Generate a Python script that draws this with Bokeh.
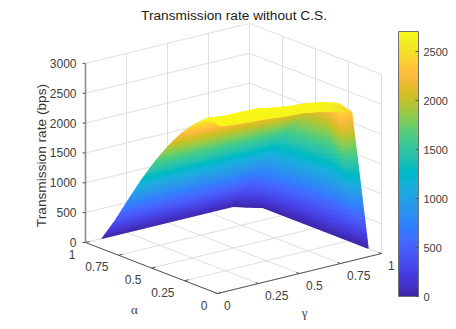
import numpy as np
from bokeh.core.properties import value
from bokeh.embed import file_html
from bokeh.models import ColorBar, ColumnDataSource, FixedTicker, LinearColorMapper
from bokeh.plotting import figure
from bokeh.resources import INLINE

ALPHA = [0.1, 0.2, 0.3, 0.4, 0.5, 0.6, 0.7, 0.8, 0.9, 1.0]
GAMMA = [0.1, 0.2, 0.3, 0.4, 0.5, 0.6, 0.7, 0.8, 0.9, 1.0]
RATE = [
    [2650, 2620, 2600, 2580, 2550, 2540, 2490, 2430, 2345, 0],
    [2700, 2660, 2660, 2650, 2600, 2560, 2540, 2490, 2410, 0],
    [2510, 2485, 2460, 2440, 2415, 2390, 2360, 2335, 2310, 0],
    [2270, 2250, 2230, 2215, 2200, 2185, 2165, 2150, 2130, 0],
    [1970, 1955, 1940, 1930, 1920, 1905, 1895, 1880, 1870, 0],
    [1625, 1620, 1610, 1605, 1600, 1590, 1585, 1580, 1575, 0],
    [1240, 1235, 1235, 1230, 1230, 1225, 1225, 1220, 1215, 0],
    [820, 820, 815, 815, 815, 810, 810, 810, 805, 0],
    [385, 385, 380, 380, 380, 375, 375, 370, 365, 0],
    [0, 0, 0, 0, 0, 0, 0, 0, 0, None],
]
# colour data of the two rim rows of the surface
RIM_COLOUR = [
    [2660, 2650, 2650, 2650, 2640, 2640, 2630, 2610, 2345, 0],
    [2700, 2695, 2695, 2690, 2685, 2680, 2670, 2660, 2600, 0],
]
FLOOR_TICKS = [0, 0.25, 0.5, 0.75, 1]
FLOOR_LABELS = ["0", "0.25", "0.5", "0.75", "1"]
Z_TICKS = [0, 500, 1000, 1500, 2000, 2500, 3000]
BAR_TICKS = [0, 500, 1000, 1500, 2000, 2500]
TITLE = "Transmission rate without C.S."
Z_LABEL = "Transmission rate (bps)"
PARULA = [
    (0.2422,0.1504,0.6603),(0.2504,0.1650,0.7076),(0.2578,0.1818,0.7511),(0.2647,0.1978,0.7952),
    (0.2706,0.2147,0.8364),(0.2751,0.2342,0.8710),(0.2783,0.2559,0.8991),(0.2803,0.2782,0.9221),
    (0.2813,0.3006,0.9414),(0.2810,0.3228,0.9579),(0.2795,0.3447,0.9717),(0.2760,0.3667,0.9829),
    (0.2699,0.3892,0.9906),(0.2602,0.4123,0.9952),(0.2440,0.4358,0.9988),(0.2206,0.4603,0.9973),
    (0.1963,0.4847,0.9892),(0.1834,0.5074,0.9798),(0.1786,0.5289,0.9682),(0.1764,0.5499,0.9520),
    (0.1687,0.5703,0.9359),(0.1540,0.5902,0.9218),(0.1460,0.6091,0.9079),(0.1380,0.6276,0.8973),
    (0.1248,0.6459,0.8883),(0.1113,0.6635,0.8763),(0.0952,0.6798,0.8598),(0.0689,0.6948,0.8394),
    (0.0297,0.7082,0.8163),(0.0036,0.7203,0.7917),(0.0067,0.7312,0.7660),(0.0433,0.7411,0.7394),
    (0.0964,0.7500,0.7120),(0.1408,0.7584,0.6842),(0.1717,0.7670,0.6554),(0.1938,0.7758,0.6251),
    (0.2161,0.7843,0.5923),(0.2470,0.7918,0.5567),(0.2906,0.7973,0.5188),(0.3406,0.8008,0.4789),
    (0.3909,0.8029,0.4354),(0.4456,0.8024,0.3909),(0.5044,0.7993,0.3480),(0.5616,0.7942,0.3045),
    (0.6174,0.7876,0.2612),(0.6720,0.7793,0.2227),(0.7242,0.7698,0.1910),(0.7738,0.7598,0.1646),
    (0.8203,0.7498,0.1535),(0.8634,0.7406,0.1596),(0.9035,0.7330,0.1774),(0.9393,0.7288,0.2100),
    (0.9728,0.7298,0.2394),(0.9956,0.7434,0.2371),(0.9970,0.7659,0.2199),(0.9952,0.7893,0.2028),
    (0.9892,0.8136,0.1885),(0.9786,0.8386,0.1766),(0.9676,0.8639,0.1643),(0.9610,0.8890,0.1537),
    (0.9597,0.9135,0.1423),(0.9628,0.9373,0.1265),(0.9691,0.9606,0.1064),(0.9769,0.9839,0.0805),
]
Z_MAX = 2708

# orthographic view of the box, in page pixels
ORIGIN = (217.0, 293.0)
ALPHA_VEC = (-132.0, -51.0)
GAMMA_VEC = (164.0, -40.0)
Z_SCALE = 0.0597


def project(a, g, z=0.0):
    x = ORIGIN[0] + np.asarray(a) * ALPHA_VEC[0] + np.asarray(g) * GAMMA_VEC[0]
    y = ORIGIN[1] + np.asarray(a) * ALPHA_VEC[1] + np.asarray(g) * GAMMA_VEC[1] - np.asarray(z) * Z_SCALE
    return x, y


rgb = np.array(PARULA)
pos = np.linspace(0, 1, len(rgb))
fine = np.linspace(0, 1, 256)
palette = ["#%02x%02x%02x" % tuple(int(round(np.interp(t, pos, rgb[:, k]) * 255)) for k in range(3)) for t in fine]
mapper = LinearColorMapper(palette=palette, low=0, high=Z_MAX)

W, H = 452, 325
p = figure(width=W, height=H, x_range=(0, W), y_range=(H, 0), output_backend="svg",
           toolbar_location=None, min_border=0, outline_line_color=None)
p.xaxis.visible = False
p.yaxis.visible = False
p.xgrid.visible = False
p.ygrid.visible = False

# walls and floor grid
GRID = "#dfdfdf"
gx, gy = [], []
for t in FLOOR_TICKS:
    for a0, g0, a1, g1 in ((t, 0, t, 1), (0, t, 1, t)):
        x, y = project([a0, a1], [g0, g1])
        gx.append(x.tolist()); gy.append(y.tolist())
    x, y = project([1, 1], [t, t], [0, Z_TICKS[-1]])
    gx.append(x.tolist()); gy.append(y.tolist())
    x, y = project([t, t], [1, 1], [0, Z_TICKS[-1]])
    gx.append(x.tolist()); gy.append(y.tolist())
for z in Z_TICKS:
    x, y = project([1, 1, 0], [0, 1, 1], [z, z, z])
    gx.append(x.tolist()); gy.append(y.tolist())
p.multi_line(gx, gy, line_color=GRID, line_width=1)

# surface, farthest cells first
A = np.array(ALPHA)
G = np.array(GAMMA)
Z = np.array([[np.nan if v is None else v for v in row] for row in RATE], dtype=float)
C = Z.copy()
C[:len(RIM_COLOUR)] = np.array(RIM_COLOUR, dtype=float)
cells = []
for i in range(len(A) - 1):
    for j in range(len(G) - 1):
        zc = Z[i:i + 2, j:j + 2]
        cc = C[i:i + 2, j:j + 2]
        missing = np.isnan(zc[1, 1])
        na = 16
        ng = 30 if j == len(G) - 2 else 2
        for ia in range(na):
            for ig in range(ng):
                ua = np.array([ia, ia + 1, ia + 1, ia]) / na
                ug = np.array([ig, ig, ig + 1, ig + 1]) / ng
                if missing:
                    # missing corner: the cell closes as a triangle
                    sc = ua + ug
                    if (sc > 1 + 1e-9).all():
                        continue
                    ua = np.where(sc > 1, ua / sc, ua)
                    ug = np.where(sc > 1, ug / sc, ug)
                    w = np.array([1 - ua - ug, ua, ug, 0 * ua])
                    zz = w[0] * zc[0, 0] + w[1] * zc[1, 0] + w[2] * zc[0, 1]
                    vv = w[0] * cc[0, 0] + w[1] * cc[1, 0] + w[2] * cc[0, 1]
                else:
                    w = np.array([(1 - ua) * (1 - ug), ua * (1 - ug), (1 - ua) * ug, ua * ug])
                    zz = w[0] * zc[0, 0] + w[1] * zc[1, 0] + w[2] * zc[0, 1] + w[3] * zc[1, 1]
                    vv = w[0] * cc[0, 0] + w[1] * cc[1, 0] + w[2] * cc[0, 1] + w[3] * cc[1, 1]
                aa = A[i] + ua * (A[i + 1] - A[i])
                gg = G[j] + ug * (G[j + 1] - G[j])
                x, y = project(aa, gg, zz)
                _, depth = project(aa.mean(), gg.mean())
                cells.append((float(depth), x.tolist(), y.tolist(), float(vv.mean())))
cells.sort(key=lambda c: c[0])
src = ColumnDataSource(dict(xs=[c[1] for c in cells], ys=[c[2] for c in cells], z=[c[3] for c in cells]))
cmap = {"field": "z", "transform": mapper}
p.patches("xs", "ys", source=src, fill_color=cmap, line_color=cmap, line_width=0.8)

# axes
AXIS = "#555555"
x, y = project([1, 0, 0], [0, 0, 1])
p.line(x.tolist(), y.tolist(), line_color=AXIS, line_width=1)
x, y = project([1, 1], [0, 0], [0, Z_TICKS[-1]])
p.line(x.tolist(), y.tolist(), line_color="#8a8a8a", line_width=1.6)

tx, ty = [], []
for t in FLOOR_TICKS:
    x0, y0 = project(t, 0)
    tx.append([float(x0), float(x0) + 4]); ty.append([float(y0), float(y0) - 1])
    x0, y0 = project(0, t)
    tx.append([float(x0), float(x0) - 3]); ty.append([float(y0), float(y0) - 1])
for z in Z_TICKS:
    x0, y0 = project(1, 0, z)
    tx.append([float(x0), float(x0) - 3]); ty.append([float(y0), float(y0)])
p.multi_line(tx, ty, line_color=AXIS, line_width=1)

FONT = value("Liberation Sans")
TXT = "#404040"
x0, y0 = project(FLOOR_TICKS, np.zeros(5))
p.text(x=(x0 - 10).tolist(), y=(y0 + 11.5).tolist(), text=FLOOR_LABELS, text_font=FONT, text_font_size="12px",
       text_color=TXT, text_align="right", text_baseline="middle")
x0, y0 = project(np.zeros(5), FLOOR_TICKS)
p.text(x=(x0 + 6.5).tolist(), y=(y0 + 12).tolist(), text=FLOOR_LABELS, text_font=FONT, text_font_size="12px",
       text_color=TXT, text_align="left", text_baseline="middle")
x0, y0 = project(np.ones(7), np.zeros(7), Z_TICKS)
p.text(x=(x0 - 9).tolist(), y=y0.tolist(), text=[str(z) for z in Z_TICKS], text_font=FONT, text_font_size="12px",
       text_color=TXT, text_align="right", text_baseline="middle")

p.text(x=[233.5], y=[15], text=[TITLE], text_font=FONT, text_font_size="13.7px", text_color="#1a1a1a",
       text_align="center", text_baseline="middle")
p.text(x=[41], y=[155], text=[Z_LABEL], text_font=FONT, text_font_size="13.7px", text_color="#333333",
       text_align="center", text_baseline="middle", angle=[np.pi / 2])
p.text(x=[134], y=[309], text=["α"], text_font=value("Liberation Serif"), text_font_size="13px", text_color=TXT,
       text_align="center", text_baseline="middle")
p.text(x=[304], y=[312], text=["γ"], text_font=value("Liberation Serif"), text_font_size="13px", text_color=TXT,
       text_align="center", text_baseline="middle")

bar = ColorBar(color_mapper=mapper, ticker=FixedTicker(ticks=BAR_TICKS), width=20, height=265, location=(398, H - 296),
               padding=0, margin=0, major_tick_in=3, major_tick_out=0, minor_tick_line_color=None,
               major_tick_line_color=AXIS, bar_line_color="#707070", label_standoff=5,
               major_label_text_font="Liberation Sans", major_label_text_font_size="11px",
               major_label_text_color=TXT, background_fill_alpha=0, border_line_color=None)
p.add_layout(bar)

open("out.html", "w").write(file_html(p, INLINE))
